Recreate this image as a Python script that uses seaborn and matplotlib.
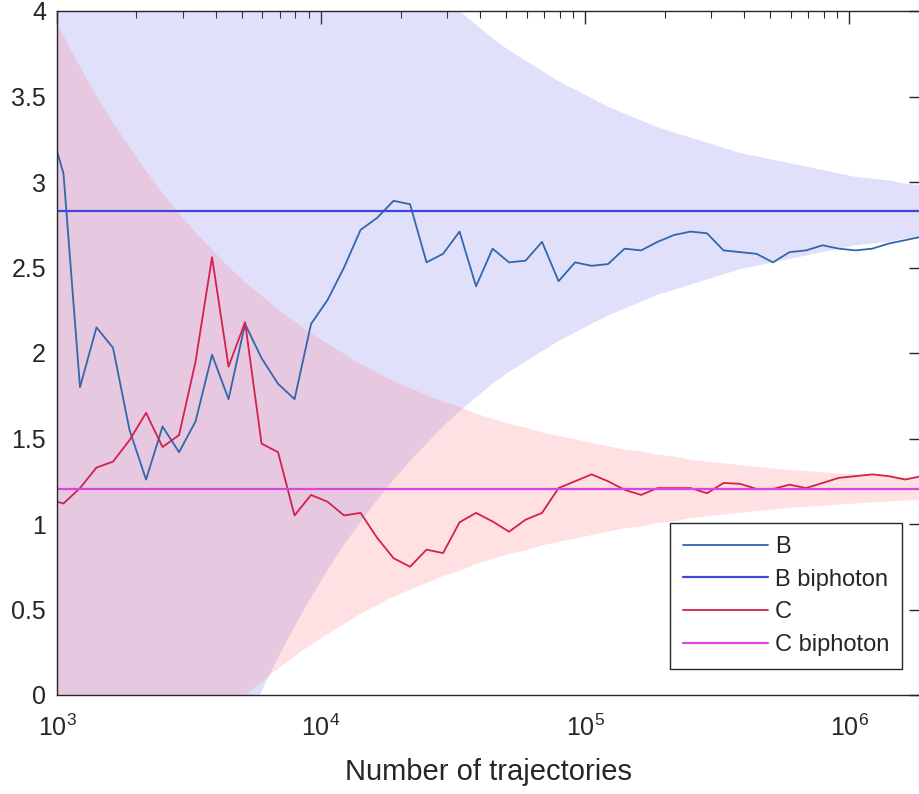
import numpy as np
import pandas as pd
import seaborn as sns
import matplotlib.pyplot as plt

# number of trajectories at each sample
n_traj = [1000, 1058, 1222, 1411, 1630, 1882, 2174, 2510, 2899, 3347,
          3865, 4463, 5154, 5951, 6872, 7935, 9163, 10581, 12218, 14109,
          16292, 18813, 21724, 25086, 28968, 33450, 38626, 44603, 51505, 59474,
          68677, 79304, 91575, 105745, 122107, 141001, 162818, 188011, 217102, 250694,
          289485, 334278, 386001, 445727, 514695, 594335, 686298, 792488, 915114, 1056711,
          1222000, 1411000, 1630000, 1882000]

b_vals = [3.18, 3.05, 1.80, 2.15, 2.03, 1.55, 1.26, 1.57, 1.42, 1.60,
          1.99, 1.73, 2.17, 1.97, 1.82, 1.73, 2.17, 2.31, 2.50, 2.72,
          2.79, 2.89, 2.87, 2.53, 2.58, 2.71, 2.39, 2.61, 2.53, 2.54,
          2.65, 2.42, 2.53, 2.51, 2.52, 2.61, 2.60, 2.65, 2.69, 2.71,
          2.70, 2.60, 2.59, 2.58, 2.53, 2.59, 2.60, 2.63, 2.61, 2.60,
          2.61, 2.64, 2.66, 2.68]

c_vals = [1.13, 1.12, 1.21, 1.33, 1.365, 1.49, 1.65, 1.45, 1.52, 1.95,
          2.56, 1.92, 2.18, 1.47, 1.42, 1.05, 1.17, 1.13, 1.05, 1.065,
          0.92, 0.80, 0.75, 0.85, 0.83, 1.01, 1.065, 1.015, 0.955, 1.025,
          1.065, 1.21, 1.25, 1.29, 1.25, 1.20, 1.17, 1.21, 1.21, 1.21,
          1.18, 1.24, 1.235, 1.205, 1.205, 1.23, 1.21, 1.24, 1.27, 1.28,
          1.29, 1.28, 1.26, 1.28]

# half widths of the shaded bands
b_band = [6.74, 6.56, 6.11, 5.69, 5.30, 4.94, 4.60, 4.29, 4.00, 3.73,
          3.48, 3.24, 3.02, 2.81, 2.61, 2.43, 2.26, 2.10, 1.95, 1.82,
          1.69, 1.57, 1.46, 1.36, 1.26, 1.17, 1.09, 1.01, 0.94, 0.88,
          0.82, 0.76, 0.71, 0.66, 0.61, 0.57, 0.53, 0.49, 0.46, 0.43,
          0.40, 0.37, 0.34, 0.32, 0.30, 0.28, 0.26, 0.24, 0.22, 0.20,
          0.19, 0.18, 0.16, 0.15]
c_band = [2.72, 2.65, 2.47, 2.30, 2.14, 2.00, 1.86, 1.73, 1.61, 1.50,
          1.40, 1.30, 1.21, 1.13, 1.05, 0.98, 0.91, 0.85, 0.79, 0.73,
          0.68, 0.63, 0.59, 0.55, 0.51, 0.48, 0.44, 0.41, 0.38, 0.36,
          0.33, 0.31, 0.29, 0.27, 0.25, 0.23, 0.22, 0.20, 0.19, 0.17,
          0.16, 0.15, 0.14, 0.13, 0.12, 0.11, 0.105, 0.098, 0.091, 0.085,
          0.079, 0.073, 0.068, 0.063]

b_biphoton = 2.83
c_biphoton = 1.205

sns.set_style("white")
plt.rcParams['font.family'] = ['Liberation Sans', 'DejaVu Sans']
plt.rcParams['axes.edgecolor'] = '#262626'
plt.rcParams['xtick.color'] = '#262626'
plt.rcParams['ytick.color'] = '#262626'

df = pd.DataFrame({"N": n_traj, "B": b_vals, "C": c_vals,
                   "bw": b_band, "cw": c_band})

fig = plt.figure(figsize=(9.2, 7.94), dpi=100)
ax = fig.add_axes([57/920, 1 - 695/794, 864/920, 684/794])

# bands
ax.fill_between(df["N"], b_biphoton - df["bw"], b_biphoton + df["bw"],
                color='#6666ee', alpha=0.2, linewidth=0)
ax.fill_between(df["N"], c_biphoton - df["cw"], c_biphoton + df["cw"],
                color='#ff6a7a', alpha=0.2, linewidth=0)

sns.lineplot(data=df, x="N", y="B", ax=ax, color='#3366aa', linewidth=1.3,
             label='B', estimator=None)
ax.axhline(b_biphoton, color='#4444dd', linewidth=1.6, label='B biphoton')
sns.lineplot(data=df, x="N", y="C", ax=ax, color='#d4204a', linewidth=1.3,
             label='C', estimator=None)
ax.axhline(c_biphoton, color='#dd44dd', linewidth=1.6, label='C biphoton')

ax.set_xscale('log')
ax.set_xlim(1000, 1.87e6)
ax.set_ylim(0, 4)
ax.set_yticks(np.arange(0, 4.01, 0.5))
ax.set_yticklabels(['0', '0.5', '1', '1.5', '2', '2.5', '3', '3.5', '4'])
ax.set_xlabel('Number of trajectories', fontsize=21, color='#262626', labelpad=12)
ax.set_ylabel('')

ax.tick_params(which='both', direction='in', top=True, right=True, labelsize=18)
ax.tick_params(which='major', length=9, width=1)
ax.tick_params(which='minor', length=5, width=0.8)
ax.tick_params(axis='x', which='major', pad=14)
ax.tick_params(axis='y', which='major', pad=8)
for s in ax.spines.values():
    s.set_linewidth(1.0)

leg = ax.legend(loc='upper right', bbox_to_anchor=(0.978, 0.2515), borderaxespad=0,
                fontsize=17, handlelength=3.6, handletextpad=0.3, labelspacing=0.45,
                borderpad=0.55, fancybox=False, framealpha=1, edgecolor='#262626')
leg.get_frame().set_linewidth(1.0)

fig.savefig('out.png', dpi=100)
plt.close(fig)
